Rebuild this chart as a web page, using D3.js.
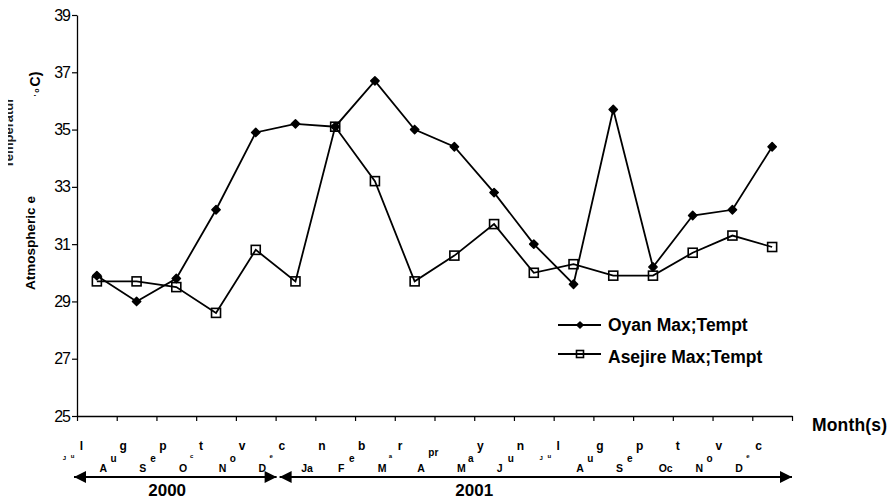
<!DOCTYPE html>
<html>
<head>
<meta charset="utf-8">
<script src="https://cdn.jsdelivr.net/npm/d3@7"></script>
<style>
  body { margin: 0; background: #fff; }
  svg { font-family: Arial, "Liberation Sans", sans-serif; }
</style>
</head>
<body>
<div id="chart"></div>
<script>
// months Jul 2000 .. Dec 2001
var months = ["Jul","Aug","Sep","Oct","Nov","Dec","Jan","Feb","Mar","Apr","May","Jun","Jul","Aug","Sep","Oct","Nov","Dec"];
// the label pieces as they appear staggered under the axis (bottom, middle, top)
var monthParts = [
  ["J","u","l"], ["A","u","g"], ["S","e","p"], ["O","c","t"], ["N","o","v"], ["D","e","c"],
  ["Ja","","n"], ["F","e","b"], ["M","a","r"], ["A","pr",""], ["M","a","y"], ["J","u","n"],
  ["J","u","l"], ["A","u","g"], ["S","e","p"], ["Oc","","t"], ["N","o","v"], ["D","e","c"]
];
var tinyParts = ["0-0","0-1","3-1","5-1","8-1","12-0","12-1","17-1"];
var years = ["2000","2001"];
var yearSpans = [[0,5],[5,18]];
var yearLabelAt = [2.27, 10];
var oyan = [29.9,29.0,29.8,32.2,34.9,35.2,35.1,36.7,35.0,34.4,32.8,31.0,29.6,35.7,30.2,32.0,32.2,34.4];
var asejire = [29.7,29.7,29.5,28.6,30.8,29.7,35.1,33.2,29.7,30.6,31.7,30.0,30.3,29.9,29.9,30.7,31.3,30.9];
var yTicks = [25,27,29,31,33,35,37,39];
var seriesNames = ["Oyan Max;Tempt","Asejire Max;Tempt"];

var W = 888, H = 499;
var margin = {left: 77, right: 96, top: 15, bottom: 83};
var svg = d3.select("#chart").append("svg").attr("width", W).attr("height", H);

var x = d3.scaleBand().domain(d3.range(months.length)).range([margin.left, W - margin.right]).padding(0);
var y = d3.scaleLinear().domain([25,39]).range([H - margin.bottom, margin.top]);
var cx = function(i) { return x(i) + x.bandwidth()/2; };

// y axis
var yAxis = svg.append("g")
  .attr("transform", "translate(" + margin.left + ",0)")
  .call(d3.axisLeft(y).tickValues(yTicks).tickSize(5).tickPadding(2).tickSizeOuter(0));
yAxis.select(".domain").attr("stroke", "#000").attr("stroke-width", 1.3);
yAxis.selectAll(".tick line").attr("stroke", "#000").attr("stroke-width", 1.2);
yAxis.selectAll(".tick text").attr("font-size", 16).attr("fill", "#000")
  .attr("letter-spacing", -1).attr("font-family", "Arial, 'Liberation Sans', sans-serif");

// x axis: ticks on category boundaries
var xLin = d3.scaleLinear().domain([0, months.length]).range([margin.left, W - margin.right]);
var xAxis = svg.append("g")
  .attr("transform", "translate(0," + y(25) + ")")
  .call(d3.axisBottom(xLin).tickValues(d3.range(months.length + 1)).tickSize(5).tickFormat("").tickSizeOuter(0));
xAxis.select(".domain").attr("stroke", "#000").attr("stroke-width", 1.3);
xAxis.selectAll(".tick line").attr("stroke", "#000").attr("stroke-width", 1.2);

// staggered month letters
var slotDx = [-37, -26, -17], slotY = [472, 462, 450], slotSize = [10.5, 10, 12];
monthParts.forEach(function(parts, i) {
  parts.forEach(function(p, k) {
    if (!p) return;
    var tiny = tinyParts.indexOf(i + "-" + k) >= 0;
    var yy = slotY[k];
    if (p === "pr") yy = 456;
    if (tiny) yy = k === 0 ? 460 : 458;
    svg.append("text")
      .attr("x", cx(i) + slotDx[k] + (tiny && k === 0 ? 3 : 0) + (p.length > 1 && k === 0 ? 3 : 0))
      .attr("y", yy)
      .attr("font-size", tiny ? 6 : slotSize[k])
      .attr("font-weight", "bold")
      .attr("fill", "#000")
      .text(p);
  });
});

// year arrows
var defs = svg.append("defs");
defs.append("marker").attr("id", "ah").attr("viewBox", "0 0 10 10")
  .attr("refX", 10).attr("refY", 5).attr("markerWidth", 14).attr("markerHeight", 12)
  .attr("markerUnits", "userSpaceOnUse").attr("orient", "auto-start-reverse")
  .append("path").attr("d", "M0,0L10,5L0,10Z").attr("fill", "#000");
defs.append("clipPath").attr("id", "tclip").append("rect")
  .attr("x", 8).attr("y", 0).attr("width", 20).attr("height", 200);
yearSpans.forEach(function(s, j) {
  var x0 = xLin(s[0]) + (j === 0 ? -3 : 4), x1 = xLin(s[1]) + (j === 0 ? 1 : 0);
  svg.append("line").attr("x1", x0).attr("x2", x1).attr("y1", 477).attr("y2", 477)
    .attr("stroke", "#000").attr("stroke-width", 2)
    .attr("marker-start", "url(#ah)").attr("marker-end", "url(#ah)");
  svg.append("text").attr("x", xLin(yearLabelAt[j])).attr("y", 496)
    .attr("text-anchor", "middle").attr("font-size", 17).attr("font-weight", "bold")
    .text(years[j]);
});

svg.append("text").attr("x", 812).attr("y", 431).attr("font-size", 17.5).attr("font-weight", "bold")
  .attr("textLength", 75).text("Month(s)");

// y label (garbled as in the source)
svg.append("text").attr("transform", "translate(35,243) rotate(-90)")
  .attr("text-anchor", "middle").attr("font-size", 13.5).attr("font-weight", "bold").text("Atmospheric e");
svg.append("g").attr("clip-path", "url(#tclip)")
  .append("text").attr("transform", "translate(13,133) rotate(-90)")
  .attr("text-anchor", "middle").attr("font-size", 13).attr("font-weight", "bold")
  .attr("fill", "#222").text("Temperatur");
var unit = svg.append("text").attr("transform", "translate(40,84) rotate(-90)")
  .attr("text-anchor", "middle").attr("font-weight", "bold");
unit.append("tspan").attr("font-size", 7).attr("dy", -1).text("' o ");
unit.append("tspan").attr("font-size", 14).attr("dy", 1).text("C)");

// lines
var line = d3.line().x(function(d, i) { return cx(i); }).y(function(d) { return y(d); });
svg.append("path").datum(oyan).attr("d", line).attr("fill", "none").attr("stroke", "#000").attr("stroke-width", 1.8);
svg.append("path").datum(asejire).attr("d", line).attr("fill", "none").attr("stroke", "#000").attr("stroke-width", 1.8);

function diamond(g, r) {
  g.append("path").attr("d", d3.symbol().type(d3.symbolDiamond2).size(r))
    .attr("fill", "#000").attr("stroke", "#000").attr("stroke-width", 1.5).attr("stroke-linejoin", "round");
}
function square(g, s) {
  g.append("rect").attr("x", -s/2).attr("y", -s/2).attr("width", s).attr("height", s)
    .attr("fill", "none").attr("stroke", "#000").attr("stroke-width", 1.6);
}
svg.selectAll(".asej").data(asejire).enter().append("g")
  .attr("transform", function(d, i) { return "translate(" + cx(i) + "," + y(d) + ")"; })
  .each(function() { square(d3.select(this), 9); });
svg.selectAll(".oyan").data(oyan).enter().append("g")
  .attr("transform", function(d, i) { return "translate(" + cx(i) + "," + y(d) + ")"; })
  .each(function() { diamond(d3.select(this), 44); });

// legend
var legend = svg.append("g");
[325, 354].forEach(function(ly, j) {
  legend.append("line").attr("x1", 558).attr("x2", 601).attr("y1", ly).attr("y2", ly)
    .attr("stroke", "#000").attr("stroke-width", 1.8);
  var m = legend.append("g").attr("transform", "translate(580," + ly + ")");
  if (j === 0) diamond(m, 24);
  else square(m, 7);
  legend.append("text").attr("x", 608).attr("y", ly + 6 + j * 3).attr("font-size", 17.5)
    .attr("font-weight", "bold").text(seriesNames[j]);
});
</script>
</body>
</html>
